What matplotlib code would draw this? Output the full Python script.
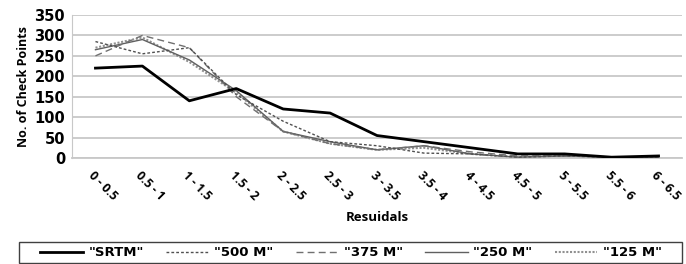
import matplotlib
matplotlib.use("Agg")
import matplotlib.pyplot as plt
from matplotlib.patches import Rectangle

plt.rcParams['font.family'] = ['Open Sans', 'DejaVu Sans']

categories = ["0 - 0.5", "0.5 - 1", "1 - 1.5", "1.5 - 2", "2 - 2.5", "2.5 - 3", "3 - 3.5",
              "3.5 - 4", "4 - 4.5", "4.5 - 5", "5 - 5.5", "5.5 - 6", "6 - 6.5"]
srtm = [220, 225, 140, 170, 120, 110, 55, 40, 25, 10, 10, 2, 5]
m500 = [285, 255, 270, 155, 90, 40, 30, 12, 10, 2, 5, 2, 2]
m375 = [250, 300, 270, 150, 65, 35, 20, 30, 15, 5, 5, 2, 2]
m250 = [265, 290, 240, 165, 65, 40, 20, 30, 10, 2, 5, 2, 2]
m125 = [270, 295, 235, 160, 65, 35, 20, 25, 10, 2, 5, 2, 2]
yticks = [0, 50, 100, 150, 200, 250, 300, 350]

fig = plt.figure(figsize=(6.86, 2.64), dpi=100)
ax = fig.add_axes([72/686, 1-158/264, 610/686, 143/264])
x = list(range(len(categories)))

ax.plot(x, srtm, color='black', lw=2, label='"SRTM"', zorder=6)
ax.plot(x, m500, color='#505050', lw=1, ls=(0, (2, 1.5)), label='"500 M"', zorder=5)
ax.plot(x, m375, color='#707070', lw=1, ls=(0, (5, 3)), label='"375 M"', zorder=4)
ax.plot(x, m250, color='#606060', lw=1, ls='-', label='"250 M"', zorder=3)
ax.plot(x, m125, color='#909090', lw=1.5, ls=(0, (1, 0.8)), label='"125 M"', zorder=2)

ax.set_xlim(-0.5, len(categories) - 0.5)
ax.set_ylim(0, 350)
ax.set_yticks(yticks)
ax.set_yticklabels([str(v) for v in yticks], fontweight='bold', fontsize=10.5,
                   family=['DejaVu Sans'])
ax.set_xticks(x)
ax.set_xticklabels(categories, rotation=-45, ha='left', rotation_mode='anchor',
                   fontweight='bold', fontsize=8.8)
ax.tick_params(axis='both', length=0)
ax.tick_params(axis='y', pad=5)
ax.tick_params(axis='x', pad=8)
ax.grid(axis='y', color='#c8c8c8', lw=1.3)
ax.set_axisbelow(True)
for s in ['top', 'right']:
    ax.spines[s].set_visible(False)
ax.spines['left'].set_color('#c8c8c8')
ax.spines['bottom'].set_color('#c8c8c8')
ax.spines['bottom'].set_linewidth(1.3)

ax.set_xlabel('Resuidals', fontweight='bold', fontsize=9.5, labelpad=6)
ax.set_ylabel('No. of Check Points', fontweight='bold', fontsize=9, labelpad=3)

leg = fig.legend(loc='center', bbox_to_anchor=(351/686, 1-253/264), ncol=5,
                 frameon=False, handlelength=3.25, handletextpad=0.4,
                 columnspacing=1.68, borderpad=0.3,
                 prop={'weight': 'bold', 'size': 9.5, 'family': ['DejaVu Sans']})
fig.patches.append(Rectangle((19/686, 1/264), 663/686, 21/264, transform=fig.transFigure,
                             fill=False, edgecolor='#404040', lw=1))

fig.savefig('out.png', dpi=100)
